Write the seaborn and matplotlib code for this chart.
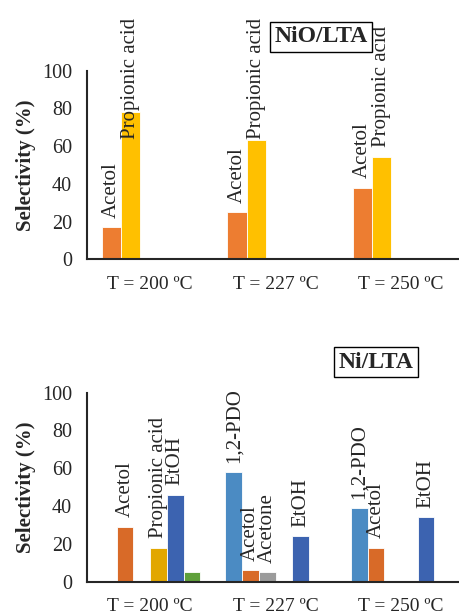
"""Selectivity bars for NiO/LTA and Ni/LTA catalysts"""

import matplotlib

matplotlib.use("Agg")
import matplotlib.pyplot as plt
import pandas as pd
import seaborn as sns

temps = ["T = 200 ºC", "T = 227 ºC", "T = 250 ºC"]

# NiO/LTA panel, five series (only two non-zero)
nio_species = ["Acetol", "Propionic acid", "1,2-PDO", "Acetone", "EtOH"]
nio_acetol = [17, 25, 38]
nio_propionic = [78, 63, 54.5]
nio_pdo = [0, 0, 0]
nio_acetone = [0, 0, 0]
nio_etoh = [0, 0, 0]

# Ni/LTA panel, six series
ni_species = ["1,2-PDO", "Acetol", "Acetone", "Propionic acid", "EtOH", "Other"]
ni_pdo = [0, 58, 39]
ni_acetol = [29, 6, 18]
ni_acetone = [0, 5, 0]
ni_propionic = [18, 0, 0]
ni_etoh = [46, 24, 34]
ni_other = [5, 0, 0]

nio_palette = {
    "Acetol": "#ED7D31",
    "Propionic acid": "#FFC000",
    "1,2-PDO": "#5B9BD5",
    "Acetone": "#A5A5A5",
    "EtOH": "#4472C4",
}
ni_palette = {
    "1,2-PDO": "#4B8BC3",
    "Acetol": "#D86A28",
    "Acetone": "#9B9B9B",
    "Propionic acid": "#E2A700",
    "EtOH": "#3C63B0",
    "Other": "#5FA03B",
}
# the last Ni/LTA series carries no label in the original
unlabelled = {"Other"}


def long_table(species, columns):
    """Build a long table (temp, species, value)."""
    rows = []
    for name, vals in zip(species, columns):
        for t, v in zip(temps, vals):
            rows.append({"temp": t, "species": name, "value": v})
    return pd.DataFrame(rows)


def draw_panel(ax, df, species, palette, width, title, title_xy, fig):
    """Draw one panel."""
    sns.barplot(
        data=df,
        x="temp",
        y="value",
        hue="species",
        hue_order=species,
        order=temps,
        palette=palette,
        width=width,
        saturation=1,
        errorbar=None,
        edgecolor="white",
        linewidth=0.6,
        legend=False,
        ax=ax,
    )
    # rotated labels above the bars, kept low enough to fit the figure
    for name, cont in zip(species, ax.containers):
        if name in unlabelled:
            continue
        for bar in cont:
            h = bar.get_height()
            if h <= 0:
                continue
            ax.text(
                bar.get_x() + bar.get_width() / 2,
                min(h + 5, 64),
                name,
                rotation=90,
                ha="center",
                va="bottom",
                fontsize=15,
            )
    ax.set_ylim(0, 100)
    ax.set_xlim(-0.5, 2.5)
    ax.set_yticks(range(0, 101, 20))
    ax.set_xlabel("")
    ax.set_ylabel("Selectivity (%)", fontsize=15, fontweight="bold", labelpad=4)
    ax.tick_params(axis="x", length=0, pad=12, labelsize=14)
    ax.tick_params(axis="y", length=5, width=1.2, pad=6, labelsize=14.5)
    for side in ("top", "right"):
        ax.spines[side].set_visible(False)
    for side in ("left", "bottom"):
        ax.spines[side].set_linewidth(1.5)
    fig.text(
        title_xy[0],
        title_xy[1],
        title,
        ha="center",
        va="center",
        fontsize=17,
        fontweight="bold",
        bbox=dict(boxstyle="square,pad=0.2", fc="white", ec="black", lw=1),
    )


def main():
    """Go Main."""
    sns.set_theme(style="white")
    plt.rcParams["font.family"] = ["Liberation Serif", "DejaVu Serif"]

    fig = plt.figure(figsize=(4.6, 6.16), dpi=100)
    ax_top = fig.add_axes([0.19, 0.579, 0.818, 0.3063])
    ax_bot = fig.add_axes([0.19, 0.0557, 0.818, 0.3068])

    top = long_table(
        nio_species, [nio_acetol, nio_propionic, nio_pdo, nio_acetone, nio_etoh]
    )
    bot = long_table(
        ni_species,
        [ni_pdo, ni_acetol, ni_acetone, ni_propionic, ni_etoh, ni_other],
    )

    draw_panel(ax_top, top, nio_species, nio_palette, 0.77, "NiO/LTA",
               (321 / 460, 1 - 37 / 616), fig)
    draw_panel(ax_bot, bot, ni_species, ni_palette, 0.8, "Ni/LTA",
               (376 / 460, 1 - 362 / 616), fig)

    fig.savefig("out.png", dpi=100)


if __name__ == "__main__":
    main()
